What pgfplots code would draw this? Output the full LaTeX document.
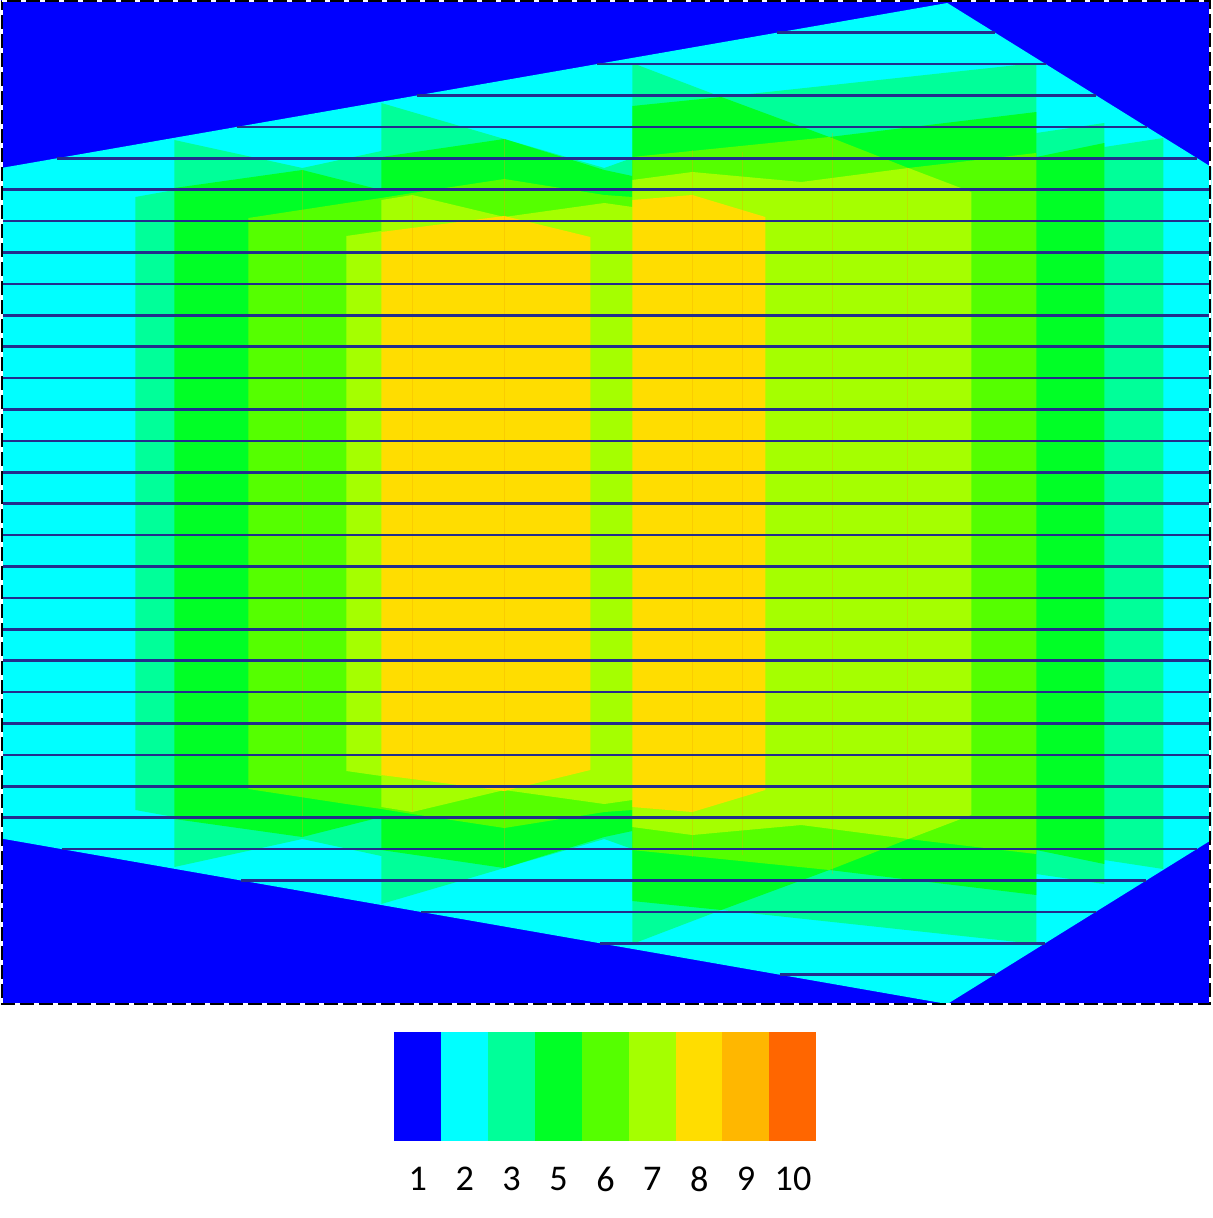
\documentclass[border=0pt]{standalone}
\usepackage{pgfplots}
\pgfplotsset{compat=1.18}
\usepackage{fontspec}
\setmainfont{Carlito}
\definecolor{c1}{RGB}{0,0,255}
\definecolor{c2}{RGB}{0,255,255}
\definecolor{c3}{RGB}{0,255,153}
\definecolor{c4}{RGB}{0,255,38}
\definecolor{c5}{RGB}{85,255,0}
\definecolor{c6}{RGB}{165,255,0}
\definecolor{c7}{RGB}{255,221,0}
\definecolor{c8}{RGB}{255,183,0}
\definecolor{c9}{RGB}{255,102,0}
\definecolor{navyline}{RGB}{35,45,140}
\definecolor{seam}{RGB}{240,165,0}
\pgfplotsset{trk/.style={navyline, line width=0.75pt}}
\begin{document}
\begin{tikzpicture}
\begin{axis}[scale only axis, width=121mm, height=121.8mm,
  xmin=0, xmax=1210, ymin=0, ymax=1218, y dir=reverse,
  hide axis, clip=false]
% full extent
\addplot[draw=none] coordinates {(0,0) (1210,1218)};
% background (level 1)
\addplot[draw=none, fill=c1] coordinates {(0,0) (1210,0) (1210,1005) (0,1005)};
% level 2
\addplot[draw=none, fill=c2] coordinates {(0,168) (946,3) (1210,167) (1210,840) (946,1004) (0,838.5)};
% level 3
\addplot[draw=none, fill=c3] coordinates {(134,197) (173,190) (173,140) (301,168) (380,151) (380,103) (503,139) (603,168) (631,158) (631,63) (720,97) (1035,63) (1035,133) (1103,123) (1103,147) (1162,138)
 (1162,869) (1103,860) (1103,884) (1035,874) (1035,944) (720,910) (631,944) (631,849) (603,839) (503,868) (380,904) (380,856) (301,839) (173,867) (173,817) (134,810)};
% level 4
\addplot[draw=none, fill=c4] coordinates {(173,188) (301,170) (380,190) (380,157) (503,139) (603,170) (631,176) (631,106) (720,97) (828,137) (1035,112) (1035,157) (1103,143)
 (1103,864) (1035,850) (1035,895) (828,870) (720,910) (631,901) (631,831) (603,837) (503,868) (380,850) (380,817) (301,837) (173,819)};
% level 5
\addplot[draw=none, fill=c5] coordinates {(247,218) (345,203) (380,198) (411,193) (503,179) (603,195) (631,197) (631,157) (828,137) (907,168) (1035,153)
 (1035,854) (907,839) (828,870) (631,850) (631,810) (603,812) (503,828) (411,814) (380,809) (345,804) (247,789)};
% level 6
\addplot[draw=none, fill=c6] coordinates {(345,236) (380,231) (380,200) (411,195) (503,217) (603,203) (631,207) (631,180) (691,172) (800,182) (907,168) (970,192)
 (970,815) (907,839) (800,825) (691,835) (631,827) (631,800) (603,804) (503,790) (411,812) (380,807) (380,776) (345,771)};
% level 7
\addplot[draw=none, fill=c7] coordinates {(380,232) (503,216) (589,237) (589,770) (503,791) (380,775)};
\addplot[draw=none, fill=c7] coordinates {(631,200) (691,195) (764,217) (764,790) (691,812) (631,807)};
% faint seams
\addplot[seam, opacity=0.3, line width=0.3pt] coordinates {(301,170) (301,837)};
\addplot[seam, opacity=0.3, line width=0.3pt] coordinates {(411,195) (411,812)};
\addplot[seam, opacity=0.3, line width=0.3pt] coordinates {(503,139) (503,868)};
\addplot[seam, opacity=0.3, line width=0.3pt] coordinates {(691,150) (691,857)};
\addplot[seam, opacity=0.3, line width=0.3pt] coordinates {(741,152) (741,855)};
\addplot[seam, opacity=0.3, line width=0.3pt] coordinates {(831,133) (831,874)};
\addplot[seam, opacity=0.3, line width=0.3pt] coordinates {(906,168) (906,839)};
% horizontal track lines
\addplot[trk] coordinates {(775.7,32.7) (993.8,32.7)};
\addplot[trk] coordinates {(595.7,64.1) (1044.4,64.1)};
\addplot[trk] coordinates {(415.6,95.5) (1094.9,95.5)};
\addplot[trk] coordinates {(235.6,126.9) (1145.5,126.9)};
\addplot[trk] coordinates {(55.6,158.3) (1196.0,158.3)};
\addplot[trk] coordinates {(0,189.7) (1210,189.7)};
\addplot[trk] coordinates {(0,221.1) (1210,221.1)};
\addplot[trk] coordinates {(0,252.5) (1210,252.5)};
\addplot[trk] coordinates {(0,283.9) (1210,283.9)};
\addplot[trk] coordinates {(0,315.3) (1210,315.3)};
\addplot[trk] coordinates {(0,346.7) (1210,346.7)};
\addplot[trk] coordinates {(0,378.1) (1210,378.1)};
\addplot[trk] coordinates {(0,409.5) (1210,409.5)};
\addplot[trk] coordinates {(0,440.9) (1210,440.9)};
\addplot[trk] coordinates {(0,472.3) (1210,472.3)};
\addplot[trk] coordinates {(0,503.7) (1210,503.7)};
\addplot[trk] coordinates {(0,535.1) (1210,535.1)};
\addplot[trk] coordinates {(0,566.5) (1210,566.5)};
\addplot[trk] coordinates {(0,597.9) (1210,597.9)};
\addplot[trk] coordinates {(0,629.3) (1210,629.3)};
\addplot[trk] coordinates {(0,660.7) (1210,660.7)};
\addplot[trk] coordinates {(0,692.1) (1210,692.1)};
\addplot[trk] coordinates {(0,723.5) (1210,723.5)};
\addplot[trk] coordinates {(0,754.9) (1210,754.9)};
\addplot[trk] coordinates {(0,786.3) (1210,786.3)};
\addplot[trk] coordinates {(0,817.7) (1210,817.7)};
\addplot[trk] coordinates {(60.6,849.1) (1195.4,849.1)};
\addplot[trk] coordinates {(240.1,880.5) (1144.8,880.5)};
\addplot[trk] coordinates {(419.6,911.9) (1094.3,911.9)};
\addplot[trk] coordinates {(599.0,943.3) (1043.7,943.3)};
\addplot[trk] coordinates {(778.5,974.7) (993.2,974.7)};
% dashed frame
\addplot[black, line width=0.5pt] coordinates {(1,1) (1209,1) (1209,1004) (1,1004) (1,1)};
\addplot[white, line width=0.5pt, dash pattern=on 0.5mm off 1.4mm] coordinates {(1,1) (1209,1) (1209,1004) (1,1004) (1,1)};
% colour bar
\addplot[draw=none, fill=c1] coordinates {(393,1032) (440,1032) (440,1141) (393,1141)};
\addplot[draw=none, fill=c2] coordinates {(440,1032) (487,1032) (487,1141) (440,1141)};
\addplot[draw=none, fill=c3] coordinates {(487,1032) (534,1032) (534,1141) (487,1141)};
\addplot[draw=none, fill=c4] coordinates {(534,1032) (581,1032) (581,1141) (534,1141)};
\addplot[draw=none, fill=c5] coordinates {(581,1032) (628,1032) (628,1141) (581,1141)};
\addplot[draw=none, fill=c6] coordinates {(628,1032) (675,1032) (675,1141) (628,1141)};
\addplot[draw=none, fill=c7] coordinates {(675,1032) (721,1032) (721,1141) (675,1141)};
\addplot[draw=none, fill=c8] coordinates {(721,1032) (768,1032) (768,1141) (721,1141)};
\addplot[draw=none, fill=c9] coordinates {(768,1032) (815,1032) (815,1141) (768,1141)};
\begin{scope}[every node/.style={font=\fontsize{10.3}{12}\selectfont, inner sep=0pt}]
\node at (axis cs:416.5,1179) {1};
\node at (axis cs:463.4,1179) {2};
\node at (axis cs:510.3,1179) {3};
\node at (axis cs:557.2,1179) {5};
\node at (axis cs:604.1,1179) {6};
\node at (axis cs:651.0,1179) {7};
\node at (axis cs:697.9,1179) {8};
\node at (axis cs:744.8,1179) {9};
\node at (axis cs:791.7,1179) {10};
\end{scope}
\end{axis}
\end{tikzpicture}
\end{document}
